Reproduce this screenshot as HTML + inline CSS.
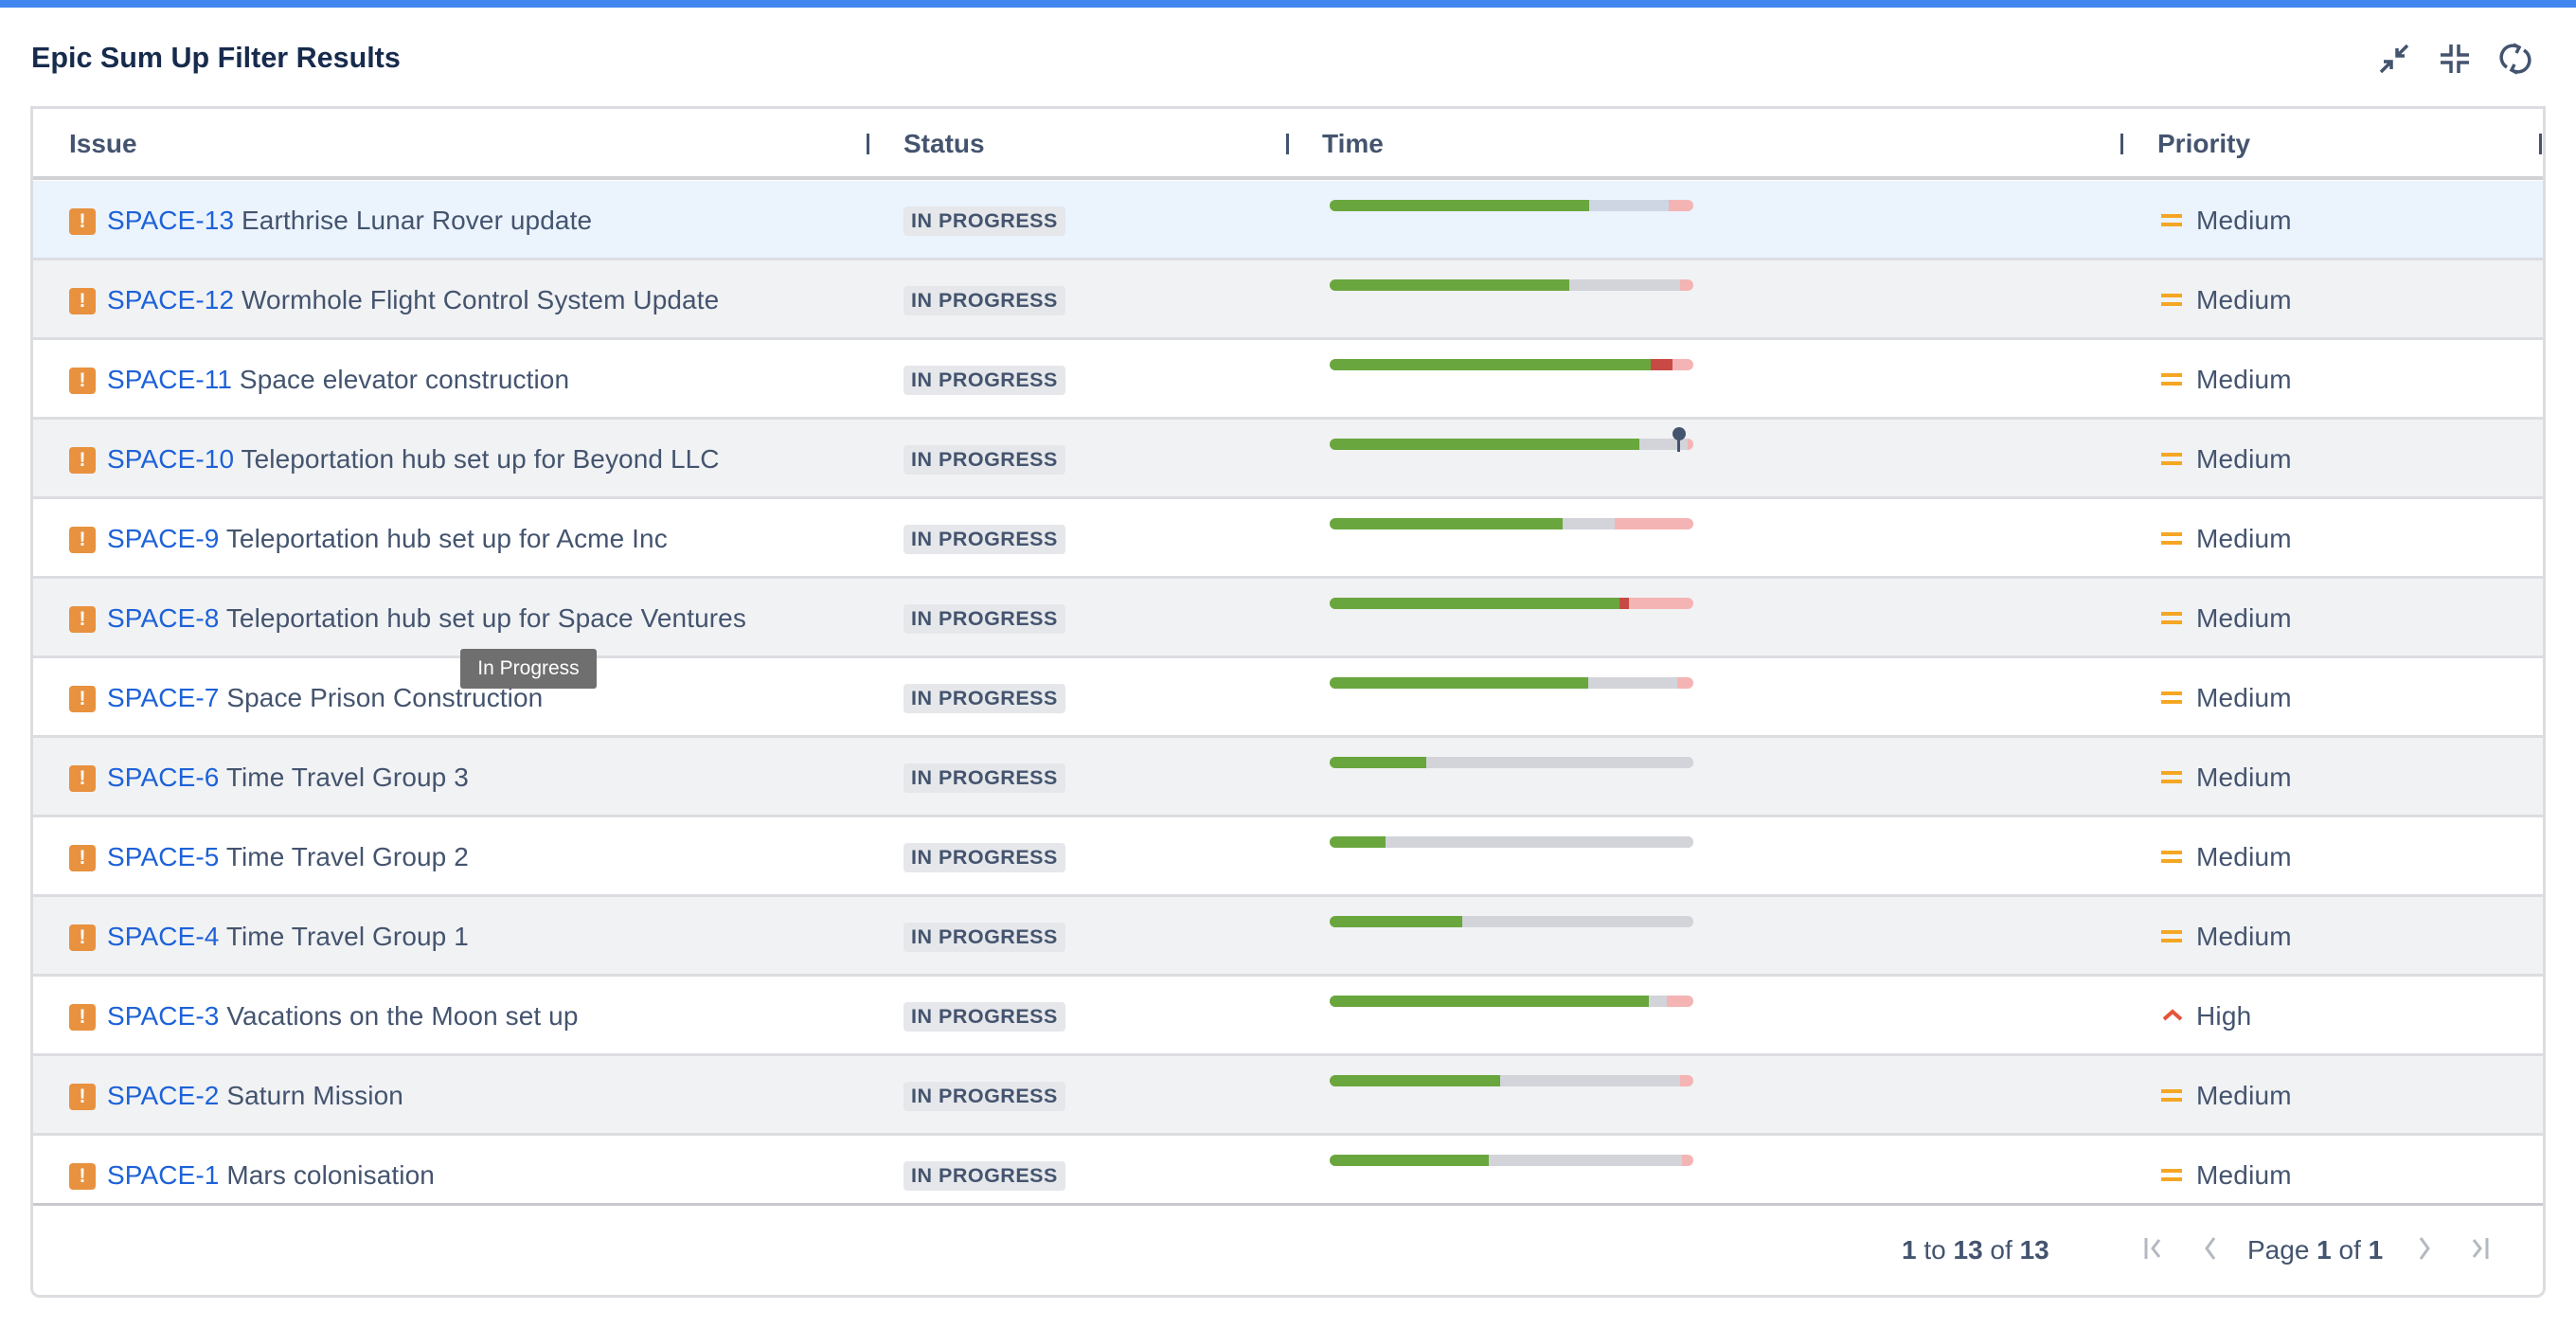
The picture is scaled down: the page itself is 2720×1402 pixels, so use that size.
<!DOCTYPE html>
<html><head><meta charset="utf-8"><style>
*{margin:0;padding:0;box-sizing:border-box}
body{width:2720px;height:1402px;background:#fff;font-family:"Liberation Sans",sans-serif;position:relative;overflow:hidden;color:#44546f}
.topbar{position:absolute;left:0;top:0;width:2720px;height:8px;background:#4286f0}
.title{position:absolute;left:33px;top:44px;font-size:30.5px;font-weight:bold;color:#172b4d}
.ic{position:absolute;top:44px;width:36px;height:36px}
.tbl{position:absolute;left:32px;top:112px;width:2656px;height:1258px;border:3px solid #dcdde1;border-radius:0 0 10px 10px;overflow:hidden}
.hdr{position:absolute;left:0;top:0;width:2650px;height:75px;border-bottom:4px solid #cfd1d5}
.h{position:absolute;top:21px;font-size:28px;font-weight:bold;color:#44546f}
.dv{position:absolute;top:26px;width:3px;height:22px;background:#44546f}
.row{position:absolute;left:0;width:2650px;height:84px;border-bottom:3px solid #dcdde1}
.oi{position:absolute;left:38px;top:29px;width:28px;height:28px;background:#e8913f;border-radius:4px;color:#fff;font-weight:bold;font-size:21px;text-align:center;line-height:28px}
.it{position:absolute;left:78px;top:26px;font-size:28px;letter-spacing:0.1px;white-space:nowrap;color:#44546f}
.it b{font-weight:normal;color:#1d62d8}
.st{position:absolute;left:919px;top:27px;height:31px;padding:0 8px;background:#e5e7ea;border-radius:4px;font-size:21.5px;font-weight:bold;line-height:31px;color:#44546f;letter-spacing:0.5px}
.bar{position:absolute;left:1369px;top:20px;width:384px;height:12px;border-radius:6px;overflow:hidden;background:#f4b4b4}
.bar span{position:absolute;top:0;height:12px}
.g{background:#69a73e}.gr{background:#d2d4da}.r{background:#c84a45}
.pr{position:absolute;left:2284px;top:26px;font-size:28px;letter-spacing:0.2px;color:#44546f}
.eq{position:absolute;left:2247px;top:35px;width:22px;height:13px;border-top:4px solid #f5a623;border-bottom:4px solid #f5a623}
.tip{position:absolute;left:486px;top:685px;width:144px;height:42px;background:#6f6f6f;color:#fff;font-size:21px;line-height:42px;text-align:center;border-radius:3px}
.ft{position:absolute;top:1304px;font-size:28px;color:#44546f}
.pg{position:absolute;top:1305px}
</style></head><body>
<div class="topbar"></div>
<div class="title">Epic Sum Up Filter Results</div>
<svg class="ic" style="left:2510px" viewBox="0 0 36 36" stroke="#44546f" stroke-width="3.5" fill="none"><path d="M32 4L21 15M21 7v8h8M4 32l11-11M7 21h8v8"/></svg>
<svg class="ic" style="left:2574px" viewBox="0 0 36 36" stroke="#44546f" stroke-width="3.5" fill="none"><path d="M14 3v11H3M22 3v11h11M14 33V22H3M22 33V22h11"/></svg>
<svg class="ic" style="left:2638px" viewBox="0 0 36 36" stroke="#44546f" stroke-width="3.5" fill="none"><path d="M9 27A12 12 0 0 1 22 6M27 9A12 12 0 0 1 14 30M16 3l6 3-3 6M20 33l-6-3 3-6"/></svg>
<div class="tbl">
<div class="hdr">
<div class="h" style="left:38px">Issue</div><div class="dv" style="left:880px"></div>
<div class="h" style="left:919px">Status</div><div class="dv" style="left:1323px"></div>
<div class="h" style="left:1361px">Time</div><div class="dv" style="left:2204px"></div>
<div class="h" style="left:2243px">Priority</div><div class="dv" style="left:2646px"></div>
</div>
<div class="row" style="top:76px;background:#ebf3fd"><div class="oi">!</div><div class="it"><b>SPACE-13</b> Earthrise Lunar Rover update</div><div class="st">IN PROGRESS</div><div class="bar"><span class="g" style="left:0;width:274px"></span><span class="gr" style="left:274px;width:84px;background:#cdd6e2"></span></div><div class="eq"></div><div class="pr">Medium</div></div>
<div class="row" style="top:160px;background:#f1f2f4"><div class="oi">!</div><div class="it"><b>SPACE-12</b> Wormhole Flight Control System Update</div><div class="st">IN PROGRESS</div><div class="bar"><span class="g" style="left:0;width:253px"></span><span class="gr" style="left:253px;width:117px"></span></div><div class="eq"></div><div class="pr">Medium</div></div>
<div class="row" style="top:244px"><div class="oi">!</div><div class="it"><b>SPACE-11</b> Space elevator construction</div><div class="st">IN PROGRESS</div><div class="bar"><span class="g" style="left:0;width:339px"></span><span class="r" style="left:339px;width:23px"></span></div><div class="eq"></div><div class="pr">Medium</div></div>
<div class="row" style="top:328px;background:#f1f2f4"><div class="oi">!</div><div class="it"><b>SPACE-10</b> Teleportation hub set up for Beyond LLC</div><div class="st">IN PROGRESS</div><div class="bar"><span class="g" style="left:0;width:327px"></span><span class="gr" style="left:327px;width:51px"></span></div><div style="position:absolute;left:1731px;top:8px;width:14px;height:14px;border-radius:7px;background:#44546f"></div><div style="position:absolute;left:1736px;top:14px;width:3px;height:20px;background:#44546f"></div><div class="eq"></div><div class="pr">Medium</div></div>
<div class="row" style="top:412px"><div class="oi">!</div><div class="it"><b>SPACE-9</b> Teleportation hub set up for Acme Inc</div><div class="st">IN PROGRESS</div><div class="bar"><span class="g" style="left:0;width:246px"></span><span class="gr" style="left:246px;width:55px"></span></div><div class="eq"></div><div class="pr">Medium</div></div>
<div class="row" style="top:496px;background:#f1f2f4"><div class="oi">!</div><div class="it"><b>SPACE-8</b> Teleportation hub set up for Space Ventures</div><div class="st">IN PROGRESS</div><div class="bar"><span class="g" style="left:0;width:306px"></span><span class="r" style="left:306px;width:10px"></span></div><div class="eq"></div><div class="pr">Medium</div></div>
<div class="row" style="top:580px"><div class="oi">!</div><div class="it"><b>SPACE-7</b> Space Prison Construction</div><div class="st">IN PROGRESS</div><div class="bar"><span class="g" style="left:0;width:273px"></span><span class="gr" style="left:273px;width:94px"></span></div><div class="eq"></div><div class="pr">Medium</div></div>
<div class="row" style="top:664px;background:#f1f2f4"><div class="oi">!</div><div class="it"><b>SPACE-6</b> Time Travel Group 3</div><div class="st">IN PROGRESS</div><div class="bar"><span class="g" style="left:0;width:102px"></span><span class="gr" style="left:102px;width:282px"></span></div><div class="eq"></div><div class="pr">Medium</div></div>
<div class="row" style="top:748px"><div class="oi">!</div><div class="it"><b>SPACE-5</b> Time Travel Group 2</div><div class="st">IN PROGRESS</div><div class="bar"><span class="g" style="left:0;width:59px"></span><span class="gr" style="left:59px;width:325px"></span></div><div class="eq"></div><div class="pr">Medium</div></div>
<div class="row" style="top:832px;background:#f1f2f4"><div class="oi">!</div><div class="it"><b>SPACE-4</b> Time Travel Group 1</div><div class="st">IN PROGRESS</div><div class="bar"><span class="g" style="left:0;width:140px"></span><span class="gr" style="left:140px;width:244px"></span></div><div class="eq"></div><div class="pr">Medium</div></div>
<div class="row" style="top:916px"><div class="oi">!</div><div class="it"><b>SPACE-3</b> Vacations on the Moon set up</div><div class="st">IN PROGRESS</div><div class="bar"><span class="g" style="left:0;width:337px"></span><span class="gr" style="left:337px;width:19px"></span></div><svg style="position:absolute;left:2247px;top:32px" width="24" height="16" viewBox="0 0 24 16"><path d="M3 13L12 5l9 8" stroke="#e5543a" stroke-width="4" fill="none"/></svg><div class="pr">High</div></div>
<div class="row" style="top:1000px;background:#f1f2f4"><div class="oi">!</div><div class="it"><b>SPACE-2</b> Saturn Mission</div><div class="st">IN PROGRESS</div><div class="bar"><span class="g" style="left:0;width:180px"></span><span class="gr" style="left:180px;width:190px"></span></div><div class="eq"></div><div class="pr">Medium</div></div>
<div class="row" style="top:1084px;height:74px;border-bottom:3px solid #c8c9cc"><div class="oi">!</div><div class="it"><b>SPACE-1</b> Mars colonisation</div><div class="st">IN PROGRESS</div><div class="bar"><span class="g" style="left:0;width:168px"></span><span class="gr" style="left:168px;width:204px"></span></div><div class="eq"></div><div class="pr">Medium</div></div>
</div>
<div class="tip">In Progress</div>
<div class="ft" style="left:2008px"><b>1</b> to <b>13</b> of <b>13</b></div>
<svg class="pg" style="left:2262px" width="24" height="26" viewBox="0 0 24 26" stroke="#b3b8c2" stroke-width="3" fill="none"><path d="M4 2v22M18 4l-7 9 7 9"/></svg>
<svg class="pg" style="left:2324px" width="20" height="26" viewBox="0 0 20 26" stroke="#b3b8c2" stroke-width="3" fill="none"><path d="M14 2L6 13l8 11"/></svg>
<div class="ft" style="left:2373px">Page <b>1</b> of <b>1</b></div>
<svg class="pg" style="left:2550px" width="20" height="26" viewBox="0 0 20 26" stroke="#b3b8c2" stroke-width="3" fill="none"><path d="M6 2l8 11-8 11"/></svg>
<svg class="pg" style="left:2606px" width="24" height="26" viewBox="0 0 24 26" stroke="#b3b8c2" stroke-width="3" fill="none"><path d="M20 2v22M6 4l7 9-7 9"/></svg>
</body></html>
